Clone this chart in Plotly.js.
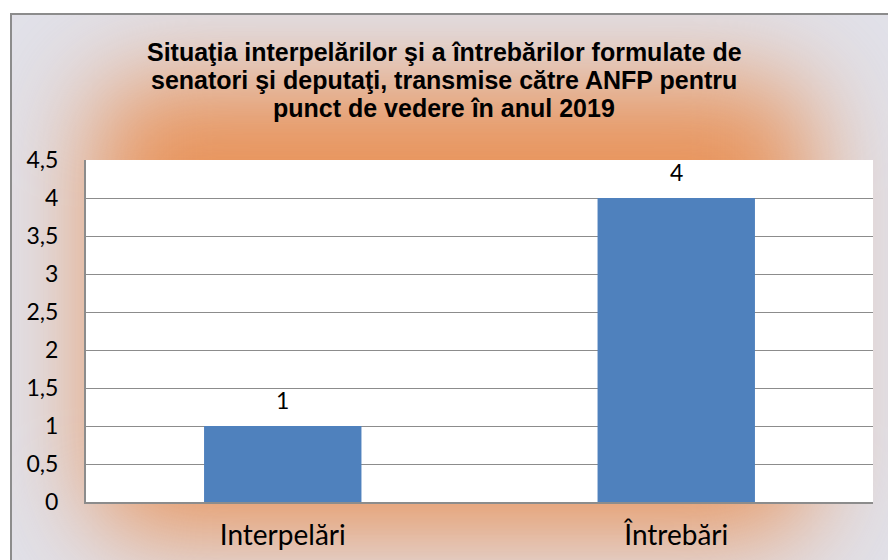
<!DOCTYPE html>
<html>
<head>
<meta charset="utf-8">
<script src="https://cdn.plot.ly/plotly-3.0.1.min.js"></script>
<style>
  html, body { margin: 0; padding: 0; width: 888px; height: 560px; overflow: hidden; background: #ffffff; }
  #frame { position: absolute; left: 10px; top: 13px; width: 890px; height: 560px;
           background: #e1e1e9; border-top: 2px solid #8c8c8c; border-left: 2px solid #8c8c8c; overflow: hidden; }
  #glow { position: absolute; left: 80px; top: 65px; width: 720px; height: 455px;
          background: #e8935a; filter: blur(50px); border-radius: 50px; }
  #chart { position: absolute; left: 0; top: 0; width: 888px; height: 560px; }
</style>
</head>
<body>
<div id="frame"><div id="glow"></div></div>
<div id="chart"></div>
<script>
const categories = ["Interpelări", "Întrebări"];
const values = [1, 4];
const titleLines = [
  "Situaţia interpelărilor şi a întrebărilor formulate de",
  "senatori şi deputaţi, transmise către ANFP pentru",
  "punct de vedere în anul 2019"
];

const trace = {
  type: "bar",
  x: categories,
  y: values,
  marker: { color: "#4f81bd" },
  hoverinfo: "skip"
};

const valueLabels = categories.map((c, i) => ({
  x: c, y: values[i], xref: "x", yref: "y",
  text: String(values[i]), showarrow: false,
  yanchor: "bottom", yshift: 10,
  font: { family: "Lato, sans-serif", size: 23, color: "#000" }
}));

const titleYs = [1.317, 1.235, 1.153];
const titleAnnots = titleLines.map((t, i) => ({
  text: "<b>" + t + "</b>", showarrow: false,
  xref: "paper", yref: "paper", x: 0.455, y: titleYs[i],
  xanchor: "center", yanchor: "middle",
  font: { family: "Liberation Sans, Arial, sans-serif", size: 25, color: "#000" }
}));

const layout = {
  width: 888, height: 560,
  paper_bgcolor: "rgba(0,0,0,0)",
  plot_bgcolor: "#ffffff",
  separators: ",.",
  margin: { l: 86, r: 15, t: 160, b: 58 },
  bargap: 0.6,
  showlegend: false,
  xaxis: {
    type: "category",
    showgrid: false, zeroline: false,
    showline: true, linecolor: "#8c8c8c", linewidth: 2,
    ticks: "outside", ticklen: 7, tickcolor: "rgba(0,0,0,0)",
    tickfont: { family: "Lato, sans-serif", size: 28, color: "#000" }
  },
  yaxis: {
    range: [0, 4.5], dtick: 0.5, tick0: 0,
    showgrid: true, gridcolor: "#8c8c8c", gridwidth: 1,
    zeroline: false,
    showline: true, linecolor: "#8c8c8c", linewidth: 2,
    ticks: "outside", ticklen: 21, tickcolor: "rgba(0,0,0,0)",
    tickfont: { family: "Lato, sans-serif", size: 23, color: "#000" }
  },
  annotations: titleAnnots.concat(valueLabels)
};

Plotly.newPlot("chart", [trace], layout, { displayModeBar: false, staticPlot: true });
</script>
</body>
</html>
